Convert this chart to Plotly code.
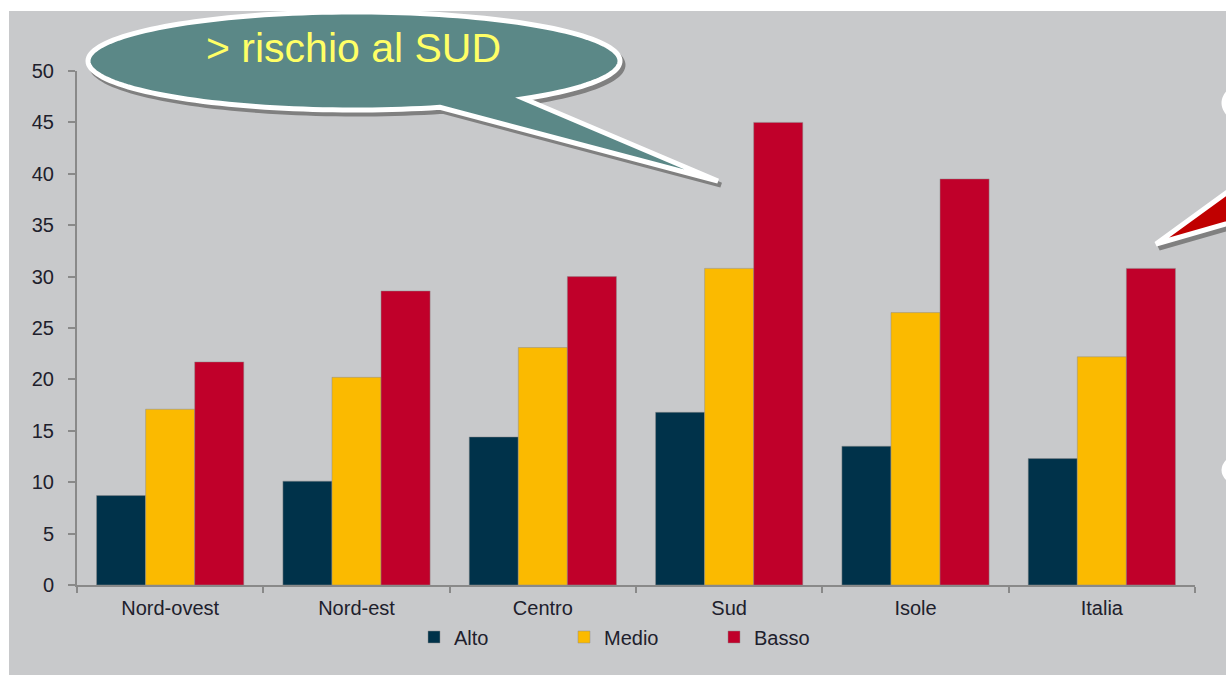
import numpy as np
import plotly.graph_objects as go

regioni = ["Nord-ovest", "Nord-est", "Centro", "Sud", "Isole", "Italia"]
alto = [8.7, 10.1, 14.4, 16.8, 13.5, 12.3]
medio = [17.1, 20.2, 23.1, 30.8, 26.5, 22.2]
basso = [21.7, 28.6, 30.0, 45.0, 39.5, 30.8]
y_ticks = list(range(0, 51, 5))

W, H = 1226, 675
L, R, T, B = 77, 31, 71, 90
PW, PH = W - L - R, H - T - B
BG = "#C8C9CB"
AXIS = "#898989"
TXT = "#20202c"


def px(x):
    return (x - L) / PW


def py(y):
    return (H - B - y) / PH


def bubble_path(cx, cy, rx, ry, base_a, base_b, tip, dx=0, dy=0):
    # ellipse outline with a pointed tail, built in pixel space then mapped to paper
    a0 = np.arctan2((base_a[1] - cy) / ry, (base_a[0] - cx) / rx)
    a1 = np.arctan2((base_b[1] - cy) / ry, (base_b[0] - cx) / rx)
    while a1 <= a0:
        a1 += 2 * np.pi
    ts = np.linspace(a0, a1, 160)
    pts = [(cx + rx * np.cos(t), cy + ry * np.sin(t)) for t in ts] + [tip]
    s = "M " + " L ".join(f"{px(x + dx):.5f},{py(y + dy):.5f}" for x, y in pts)
    return s + " Z"


fig = go.Figure()
for name, vals, col in [("Alto", alto, "#00324A"),
                        ("Medio", medio, "#FBBA00"),
                        ("Basso", basso, "#C0002A")]:
    fig.add_trace(go.Bar(x=regioni, y=vals, name=name,
                         marker=dict(color=col, line=dict(color="rgba(140,140,140,0.6)", width=0.8))))

shapes = [
    # page background with the thin white strips on top and left
    dict(type="rect", xref="paper", yref="paper", layer="below",
         x0=px(9), x1=px(W + 5), y0=py(11), y1=py(H + 5),
         fillcolor=BG, line=dict(width=0)),
]

callouts = [
    # (cx, cy, rx, ry, base_a, base_b, tip, fill)
    (354, 61, 266, 49, (443, 109), (530, 100), (718, 181), "#5B8887"),
    (1424, 103, 200, 50, (1302, 140), (1482, 152), (1156, 244), "#C00000"),
]
for cx, cy, rx, ry, ba, bb, tip, fill in callouts:
    shapes.append(dict(type="path", xref="paper", yref="paper", layer="above",
                       path=bubble_path(cx, cy, rx, ry, ba, bb, tip, 3, 4),
                       fillcolor="#808080", line=dict(color="#808080", width=5)))
    shapes.append(dict(type="path", xref="paper", yref="paper", layer="above",
                       path=bubble_path(cx, cy, rx, ry, ba, bb, tip),
                       fillcolor=fill, line=dict(color="white", width=5)))

# edge of another bubble that sits off the right side
shapes.append(dict(type="circle", xref="paper", yref="paper", layer="above",
                   x0=px(1227), x1=px(1627), y0=py(426), y1=py(516),
                   fillcolor="#808080", line=dict(color="#808080", width=5)))
shapes.append(dict(type="circle", xref="paper", yref="paper", layer="above",
                   x0=px(1224), x1=px(1624), y0=py(428), y1=py(512),
                   fillcolor="#5B8887", line=dict(color="white", width=5)))

fig.add_annotation(xref="paper", yref="paper", x=px(353), y=py(48),
                   xanchor="center", yanchor="middle",
                   text="> rischio al SUD", showarrow=False,
                   font=dict(family="Liberation Sans, Arial", size=41, color="#FFFF66"))

fig.update_layout(
    width=W, height=H,
    margin=dict(l=L, r=R, t=T, b=B),
    paper_bgcolor="white", plot_bgcolor=BG,
    barmode="group", bargap=0.21, bargroupgap=0,
    shapes=shapes,
    font=dict(family="Liberation Sans, Arial", size=20, color=TXT),
    legend=dict(orientation="h", x=px(414), y=py(637), xanchor="left", yanchor="middle",
                bgcolor="rgba(0,0,0,0)", entrywidth=105, itemwidth=30,
                font=dict(size=20, color=TXT)),
)
fig.update_xaxes(showline=True, linecolor=AXIS, linewidth=2, ticks="outside",
                 tickson="boundaries", ticklen=6, tickcolor=AXIS, tickwidth=2,
                 showgrid=False, ticklabelstandoff=4)
fig.update_yaxes(range=[0, 50], tickvals=y_ticks, showline=True, linecolor=AXIS,
                 linewidth=2, ticks="outside", ticklen=7, tickcolor=AXIS, tickwidth=2,
                 showgrid=False, zeroline=False, ticklabelstandoff=10)

fig.write_html("out.html", config={"displayModeBar": False},
               post_script="document.body.style.margin='0';")
